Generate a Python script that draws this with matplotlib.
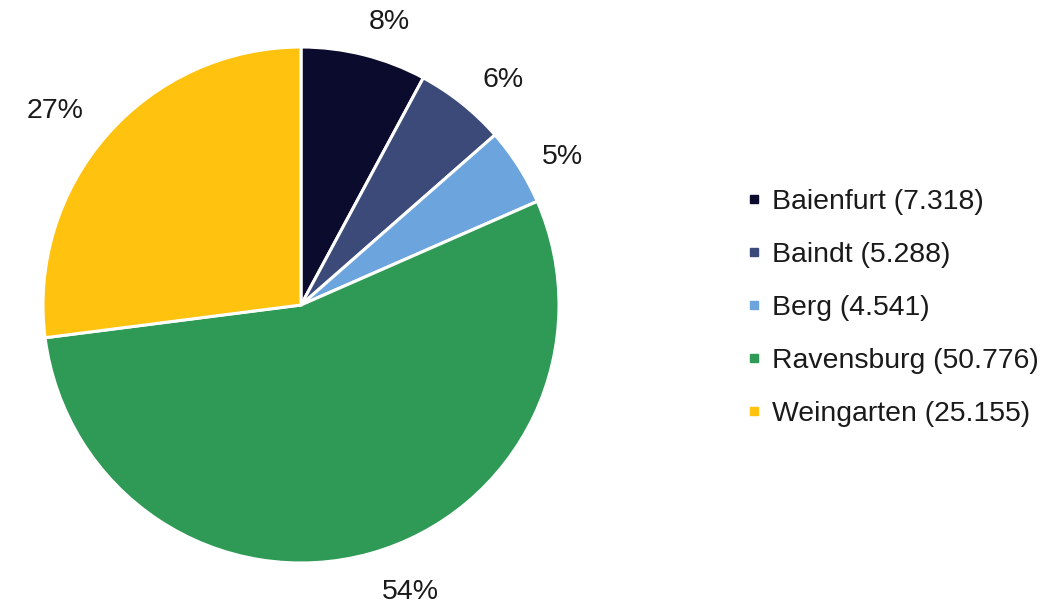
import numpy as np
import matplotlib
matplotlib.use('Agg')
import matplotlib.pyplot as plt
from matplotlib.lines import Line2D

plt.rcParams['font.family'] = ['Liberation Sans', 'DejaVu Sans']

# Einwohner je Gemeinde (in Tausend)
gemeinden = ['Baienfurt', 'Baindt', 'Berg', 'Ravensburg', 'Weingarten']
einwohner = [7.318, 5.288, 4.541, 50.776, 25.155]
anteil_labels = ['8%', '6%', '5%', '54%', '27%']
farben = ['#0b0b2e', '#3b4a78', '#6ca4de', '#2e9a55', '#ffc20e']

# Beschriftungen etwas gegen den Uhrzeigersinn versetzt (Grad) und Abstand
label_dreh = [-3.0, -3.0, -2.5, 5.5, 2.7]
label_abst = [1.16, 1.18, 1.17, 1.18, 1.22]

fig = plt.figure(figsize=(10.51, 6.06), dpi=100)
ax = fig.add_axes([43 / 1051, 43 / 606, 516 / 1051, 516 / 606])

wedges, texts = ax.pie(einwohner, colors=farben, labels=anteil_labels,
                       startangle=90, counterclock=False,
                       wedgeprops=dict(edgecolor='white', linewidth=2.2),
                       textprops=dict(fontsize=20.5, color='#1a1a1a'))
for w, t, d, r in zip(wedges, texts, label_dreh, label_abst):
    ang = np.deg2rad((w.theta1 + w.theta2) / 2 + d)
    t.set_position((r * np.cos(ang), r * np.sin(ang)))
    t.set_horizontalalignment('center')
    t.set_verticalalignment('center_baseline')
ax.set_xlim(-1, 1)
ax.set_ylim(-1, 1)
ax.set_aspect('equal')

handles = [Line2D([], [], marker='s', linestyle='none', markersize=6.3,
                  markerfacecolor=c, markeredgecolor=c) for c in farben]
leg_labels = [f'{g} ({v:.3f})' for g, v in zip(gemeinden, einwohner)]
fig.legend(handles, leg_labels, loc='center left',
           bbox_to_anchor=(745 / 1051, 1 - 308 / 606),
           frameon=False, fontsize=20.4, labelspacing=0.95,
           handlelength=0.6, handletextpad=0.36, borderpad=0,
           borderaxespad=0, labelcolor='#1a1a1a')

fig.savefig('out.png', dpi=100)
